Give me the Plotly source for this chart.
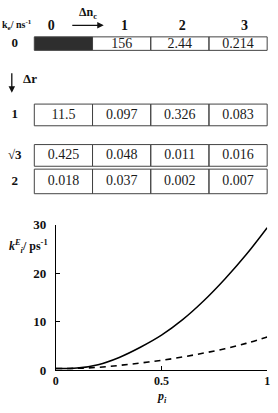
import plotly.graph_objects as go

# ---- data ----
col_labels = ["0", "1", "2", "3"]
row_labels = ["0", "1", "√3", "2"]
table_values = [
    [None, "156", "2.44", "0.214"],
    ["11.5", "0.097", "0.326", "0.083"],
    ["0.425", "0.048", "0.011", "0.016"],
    ["0.018", "0.037", "0.002", "0.007"],
]
p_vals = [0.0, 0.1, 0.2, 0.3, 0.4, 0.5, 0.6, 0.7, 0.8, 0.9, 1.0]
k_solid = [0.3, 0.4, 1.1, 2.6, 4.7, 7.2, 10.4, 14.3, 18.8, 23.8, 29.4]
k_dashed = [0.3, 0.35, 0.55, 0.95, 1.45, 2.0, 2.7, 3.5, 4.4, 5.5, 6.8]

# ---- layout geometry (pixels) ----
W, H = 278, 413
col_left_px, col_w_px = 32, 59.5
row_center_px = [38, 112, 154, 181]
row_h_px = [14, 22.5, 22.5, 25.5]
header_shift = [-0.21, 0.05, 0.04, 0.11]

def u_of_px(px):
    return (px - col_left_px) / col_w_px - 0.5

serif = "Liberation Serif"
fig = go.Figure()

# table shapes
shapes = []
for r, row in enumerate(table_values):
    yc, h = row_center_px[r], row_h_px[r]
    for c, v in enumerate(row):
        shapes.append(dict(
            type="rect", xref="x2", yref="y2",
            x0=c - 0.5, x1=c + 0.5, y0=yc - h / 2, y1=yc + h / 2,
            line=dict(color="#444", width=1),
            fillcolor="#2e2e2e" if v is None else "rgba(0,0,0,0)",
            layer="below",
        ))

# cell values
tx, ty, tt = [], [], []
for r, row in enumerate(table_values):
    for c, v in enumerate(row):
        if v is not None:
            tx.append(c); ty.append(row_center_px[r] + 0.5); tt.append(v)
fig.add_trace(go.Scatter(x=tx, y=ty, text=tt, mode="text", xaxis="x2", yaxis="y2",
                         textfont=dict(family=serif, size=14, color="#1a1a1a"),
                         showlegend=False, hoverinfo="skip"))
# row labels
fig.add_trace(go.Scatter(x=[u_of_px(12)] * 4, y=row_center_px, text=row_labels, mode="text",
                         xaxis="x2", yaxis="y2",
                         textfont=dict(family=serif, size=13, color="#111", weight="bold"),
                         showlegend=False, hoverinfo="skip"))
# column headers
fig.add_trace(go.Scatter(x=[i + s for i, s in enumerate(header_shift)], y=[20] * 4,
                         text=col_labels, mode="text", xaxis="x2", yaxis="y2",
                         textfont=dict(family=serif, size=14, color="#111", weight="bold"),
                         showlegend=False, hoverinfo="skip"))

# curves
fig.add_trace(go.Scatter(x=p_vals, y=k_solid, mode="lines",
                         line=dict(color="black", width=1.5, shape="spline", smoothing=1.0),
                         showlegend=False))
fig.add_trace(go.Scatter(x=p_vals, y=k_dashed, mode="lines",
                         line=dict(color="black", width=1.6, dash="6px,5px", shape="spline", smoothing=1.0),
                         showlegend=False))

def pxx(px):
    return px / W

def pxy(py):
    return 1 - py / H

def txt(text, x, y, size, weight="bold"):
    return dict(text=text, x=pxx(x), y=pxy(y), xref="paper", yref="paper", showarrow=False,
                xanchor="center", yanchor="middle",
                font=dict(family=serif, size=size, color="#111", weight=weight))

def arrow(x, y, ax, ay):
    return dict(text="", x=pxx(x), y=pxy(y), xref="paper", yref="paper", showarrow=True,
                xanchor="center", yanchor="middle",
                ax=ax, ay=ay, arrowhead=2, arrowsize=1, arrowwidth=1.3, arrowcolor="#111")

annotations = [
    txt("k<sub>e</sub>/ ns<sup>-1</sup>", 14, 19, 10),
    txt("Δn<sub>c</sub>", 87, 6, 12),
    arrow(103, 19, -33, 0),
    arrow(9, 89, 0, -21),
    txt("Δr", 28, 74, 13),
    txt("<i>k</i><sup><i>E</i></sup><sub><i>i</i></sub>/ ps<sup>-1</sup>", 26, 249, 12),
    txt("<i>p<sub>i</sub></i>", 163, 405, 12),
]

fig.update_layout(
    width=W, height=H, margin=dict(l=0, r=0, t=0, b=0),
    paper_bgcolor="white", plot_bgcolor="rgba(0,0,0,0)",
    shapes=shapes, annotations=annotations,
    xaxis=dict(domain=[54 / W, 270 / W], range=[0, 1], tickvals=[0, 0.5, 1], ticktext=["0", "0.5", "1"],
               ticks="inside", ticklen=4, tickcolor="black", showline=True, linecolor="black", linewidth=1,
               showgrid=False, zeroline=False,
               tickfont=dict(family=serif, size=12, color="#111", weight="bold")),
    yaxis=dict(domain=[1 - 376.7 / H, 1 - 226 / H], range=[0, 30], tickvals=[0, 10, 20, 30],
               ticks="inside", ticklen=4, tickcolor="black", showline=True, linecolor="black", linewidth=1,
               showgrid=False, zeroline=False, ticklabelstandoff=6,
               tickfont=dict(family=serif, size=13, color="#111", weight="bold")),
    xaxis2=dict(domain=[0, 1], range=[u_of_px(0), u_of_px(W)], visible=False, anchor="y2"),
    yaxis2=dict(domain=[0, 1], range=[H, 0], visible=False, anchor="x2"),
)

fig.write_html("out.html")
